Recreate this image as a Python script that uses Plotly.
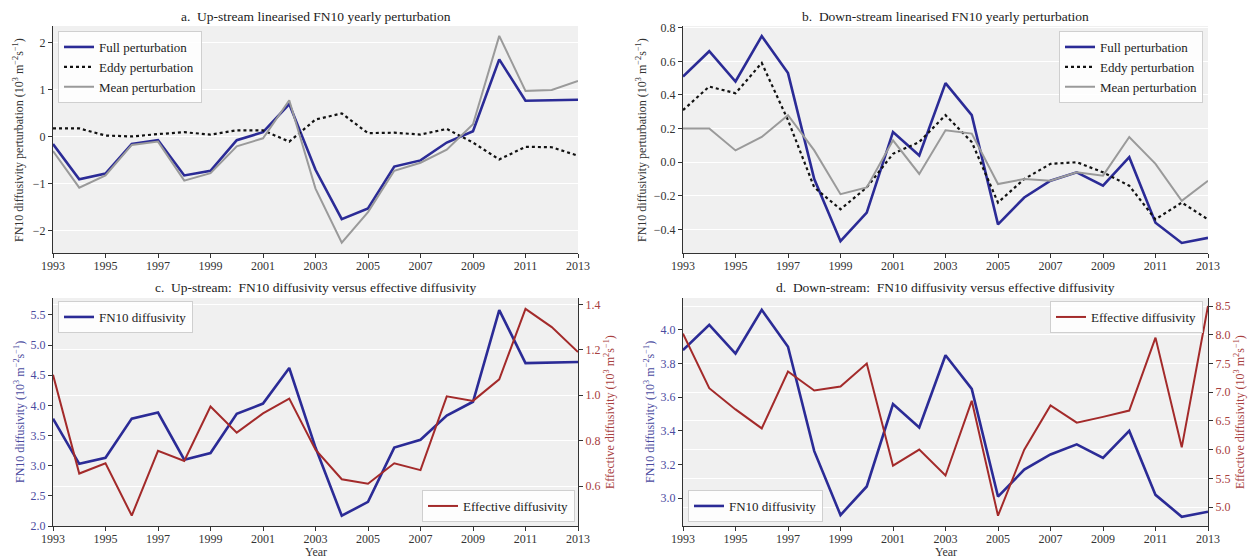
import plotly.graph_objects as go

years = list(range(1993, 2014))
x_ticks = list(range(1993, 2014, 2))

# Panel a: up-stream perturbations
up_full = [-0.15, -0.90, -0.78, -0.15, -0.07, -0.82, -0.72, -0.07, 0.10, 0.70, -0.70,
           -1.75, -1.52, -0.63, -0.50, -0.12, 0.12, 1.65, 0.77, 0.78, 0.79]
up_eddy = [0.18, 0.18, 0.03, 0.01, 0.06, 0.10, 0.05, 0.14, 0.14, -0.10, 0.37,
           0.50, 0.08, 0.09, 0.05, 0.17, -0.12, -0.48, -0.21, -0.22, -0.40]
up_mean = [-0.30, -1.08, -0.82, -0.17, -0.10, -0.93, -0.77, -0.20, -0.03, 0.78, -1.10,
           -2.25, -1.60, -0.72, -0.55, -0.27, 0.27, 2.15, 0.98, 1.00, 1.19]

# Panel b: down-stream perturbations
dn_full = [0.51, 0.66, 0.48, 0.75, 0.53, -0.10, -0.47, -0.30, 0.18, 0.04, 0.47,
           0.28, -0.37, -0.21, -0.11, -0.06, -0.14, 0.03, -0.36, -0.48, -0.45]
dn_eddy = [0.31, 0.45, 0.41, 0.59, 0.25, -0.15, -0.28, -0.15, 0.05, 0.12, 0.28,
           0.12, -0.24, -0.10, -0.01, 0.00, -0.06, -0.14, -0.34, -0.24, -0.34]
dn_mean = [0.20, 0.20, 0.07, 0.15, 0.28, 0.07, -0.19, -0.15, 0.13, -0.07, 0.19,
           0.17, -0.13, -0.10, -0.11, -0.06, -0.08, 0.15, -0.01, -0.23, -0.11]

# Panel c: up-stream FN10 vs effective diffusivity
up_fn10 = [3.78, 3.03, 3.13, 3.78, 3.88, 3.10, 3.21, 3.86, 4.03, 4.62, 3.30,
           2.17, 2.40, 3.30, 3.43, 3.83, 4.06, 5.58, 4.70, 4.71, 4.72]
up_eff = [1.09, 0.655, 0.70, 0.47, 0.755, 0.71, 0.95, 0.835, 0.92, 0.985, 0.76,
          0.63, 0.61, 0.70, 0.67, 0.995, 0.975, 1.07, 1.38, 1.30, 1.19]

# Panel d: down-stream FN10 vs effective diffusivity
dn_fn10 = [3.88, 4.03, 3.86, 4.12, 3.90, 3.28, 2.90, 3.07, 3.56, 3.42, 3.85,
           3.65, 3.01, 3.17, 3.26, 3.32, 3.24, 3.40, 3.02, 2.89, 2.92]
dn_eff = [8.02, 7.07, 6.70, 6.37, 7.36, 7.03, 7.10, 7.50, 5.72, 6.00, 5.55,
          6.85, 4.85, 6.00, 6.77, 6.47, 6.57, 6.68, 7.95, 6.04, 8.50]

W, H = 1256, 558
OFF = 8  # page body margin in the browser
FONT = "Liberation Serif"
BLUE = "#2b2b96"
RED = "#a32a2a"
GRAY = "#9a9a9a"
BLUE_TXT = "#4a4aa0"
RED_TXT = "#a84040"
BG = "#f0f0f0"


def px(x):
    return (x - OFF) / W


def py(y):
    return 1 - (y - OFF) / H


fig = go.Figure()

# Panel a
fig.add_trace(go.Scatter(x=years, y=up_full, mode="lines", name="Full perturbation",
                         line=dict(color=BLUE, width=2.6), xaxis="x", yaxis="y", legend="legend"))
fig.add_trace(go.Scatter(x=years, y=up_eddy, mode="lines", name="Eddy perturbation",
                         line=dict(color="#111111", width=2.2, dash="dot"), xaxis="x", yaxis="y", legend="legend"))
fig.add_trace(go.Scatter(x=years, y=up_mean, mode="lines", name="Mean perturbation",
                         line=dict(color=GRAY, width=2), xaxis="x", yaxis="y", legend="legend"))

# Panel b
fig.add_trace(go.Scatter(x=years, y=dn_full, mode="lines", name="Full perturbation",
                         line=dict(color=BLUE, width=2.6), xaxis="x2", yaxis="y2", legend="legend2"))
fig.add_trace(go.Scatter(x=years, y=dn_eddy, mode="lines", name="Eddy perturbation",
                         line=dict(color="#111111", width=2.2, dash="dot"), xaxis="x2", yaxis="y2", legend="legend2"))
fig.add_trace(go.Scatter(x=years, y=dn_mean, mode="lines", name="Mean perturbation",
                         line=dict(color=GRAY, width=2), xaxis="x2", yaxis="y2", legend="legend2"))

# Panel c
fig.add_trace(go.Scatter(x=years, y=up_fn10, mode="lines", name="FN10 diffusivity",
                         line=dict(color=BLUE, width=2.6), xaxis="x3", yaxis="y3", legend="legend3"))
fig.add_trace(go.Scatter(x=years, y=up_eff, mode="lines", name="Effective diffusivity",
                         line=dict(color=RED, width=2), xaxis="x3", yaxis="y5", legend="legend4"))

# Panel d
fig.add_trace(go.Scatter(x=years, y=dn_fn10, mode="lines", name="FN10 diffusivity",
                         line=dict(color=BLUE, width=2.6), xaxis="x4", yaxis="y4", legend="legend6"))
fig.add_trace(go.Scatter(x=years, y=dn_eff, mode="lines", name="Effective diffusivity",
                         line=dict(color=RED, width=2), xaxis="x4", yaxis="y6", legend="legend5"))

tickfont = dict(family=FONT, size=12, color="#333333")
axis_common = dict(showline=True, linecolor="#333333", linewidth=1, ticks="outside",
                   ticklen=4, tickcolor="#333333", zeroline=False, automargin=False)

xl = [px(53), px(578)]
xr = [px(683), px(1208)]
yt = [py(253), py(26)]
yb = [py(526), py(298)]

for name, dom, anchor in [("xaxis", xl, "y"), ("xaxis2", xr, "y2"),
                          ("xaxis3", xl, "y3"), ("xaxis4", xr, "y4")]:
    fig.layout[name] = dict(domain=dom, anchor=anchor, range=[1993, 2013], ticklabelstandoff=-2,
                            tickvals=x_ticks, showgrid=False, tickfont=tickfont, **axis_common)

fig.layout.yaxis = dict(domain=yt, anchor="x", range=[-2.47, 2.36], dtick=1, tickfont=tickfont,
                        showgrid=True, gridcolor="white", gridwidth=1, **axis_common)
fig.layout.yaxis2 = dict(domain=yt, anchor="x2", range=[-0.54, 0.81], dtick=0.2, tickformat=".1f",
                         tickfont=tickfont, showgrid=True, gridcolor="white", gridwidth=1, **axis_common)

blue_font = dict(family=FONT, size=12, color=BLUE_TXT)
red_font = dict(family=FONT, size=12, color=RED_TXT)

fig.layout.yaxis3 = dict(domain=yb, anchor="x3", range=[2.0, 5.78], dtick=0.5, tickformat=".1f",
                         showgrid=False, tickfont=blue_font, **axis_common)
fig.layout.yaxis4 = dict(domain=yb, anchor="x4", range=[2.835, 4.19], dtick=0.2, tickformat=".1f",
                         showgrid=False, tickfont=blue_font, **axis_common)
fig.layout.yaxis5 = dict(overlaying="y3", anchor="x3", side="right", range=[0.424, 1.428], dtick=0.2,
                         tickformat=".1f", showgrid=True, gridcolor="white", gridwidth=1,
                         tickfont=red_font, **axis_common)
fig.layout.yaxis6 = dict(overlaying="y4", anchor="x4", side="right", range=[4.67, 8.64], dtick=0.5,
                         tickformat=".1f", showgrid=True, gridcolor="white", gridwidth=1,
                         tickfont=red_font, **axis_common)

leg_common = dict(bgcolor="rgba(255,255,255,0.85)", bordercolor="#cfcfcf", borderwidth=1,
                  font=dict(family=FONT, size=13, color="#222222"), itemwidth=30,
                  tracegroupgap=0)
fig.layout.legend = dict(x=px(58), y=py(31), xanchor="left", yanchor="top", **leg_common)
fig.layout.legend2 = dict(x=px(1203), y=py(31), xanchor="right", yanchor="top", **leg_common)
fig.layout.legend3 = dict(x=px(58), y=py(301), xanchor="left", yanchor="top", **leg_common)
fig.layout.legend4 = dict(x=px(575), y=py(522), xanchor="right", yanchor="bottom", **leg_common)
fig.layout.legend5 = dict(x=px(1203), y=py(301), xanchor="right", yanchor="top", **leg_common)
fig.layout.legend6 = dict(x=px(688), y=py(522), xanchor="left", yanchor="bottom", **leg_common)

title_font = dict(family=FONT, size=13.5, color="#222222")
label_font = dict(family=FONT, size=12, color="#333333")
annotations = [
    dict(text="a.  Up-stream linearised FN10 yearly perturbation", x=px(315.5), y=py(8)),
    dict(text="b.  Down-stream linearised FN10 yearly perturbation", x=px(945.5), y=py(8)),
    dict(text="c.  Up-stream:  FN10 diffusivity versus effective diffusivity", x=px(315.5), y=py(279)),
    dict(text="d.  Down-stream:  FN10 diffusivity versus effective diffusivity", x=px(945.5), y=py(279)),
]
for a in annotations:
    fig.add_annotation(xref="paper", yref="paper", xanchor="center", yanchor="top",
                       showarrow=False, font=title_font, borderpad=0, **a)

ylabels = [
    ("FN10 diffusivity perturbation (10<sup>3</sup> m<sup>−2</sup>s<sup>−1</sup>)", 18, 140, "#333333"),
    ("FN10 diffusivity perturbation (10<sup>3</sup> m<sup>−2</sup>s<sup>−1</sup>)", 641, 140, "#333333"),
    ("FN10 diffusivity (10<sup>3</sup> m<sup>−2</sup>s<sup>−1</sup>)", 19, 412, BLUE_TXT),
    ("Effective diffusivity (10<sup>3</sup> m<sup>2</sup>s<sup>−1</sup>)", 609, 412, RED_TXT),
    ("FN10 diffusivity (10<sup>3</sup> m<sup>−2</sup>s<sup>−1</sup>)", 649, 412, BLUE_TXT),
    ("Effective diffusivity (10<sup>3</sup> m<sup>2</sup>s<sup>−1</sup>)", 1239, 412, RED_TXT),
]
for text, x, y, c in ylabels:
    fig.add_annotation(text=text, x=px(x), y=py(y), xref="paper", yref="paper", textangle=-90,
                       xanchor="center", yanchor="middle", showarrow=False,
                       font=dict(family=FONT, size=12, color=c))

for x in (315.5, 945.5):
    fig.add_annotation(text="Year", x=px(x), y=py(552), xref="paper", yref="paper",
                       xanchor="center", yanchor="middle", showarrow=False, font=label_font)

fig.update_layout(width=W, height=H, autosize=False, margin=dict(l=0, r=0, t=0, b=0),
                  paper_bgcolor="white", plot_bgcolor=BG, showlegend=True,
                  font=dict(family=FONT, size=12))

fig.write_html("out.html")
